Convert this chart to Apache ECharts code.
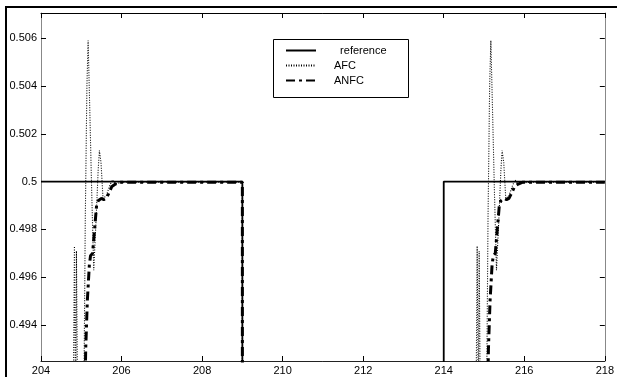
<!DOCTYPE html>
<html>
<head>
<meta charset="utf-8">
<script src="https://cdn.jsdelivr.net/npm/echarts@6/dist/echarts.min.js"></script>
<style>
html,body{margin:0;padding:0;background:#fff;}
#c{width:617px;height:377px;}
</style>
</head>
<body>
<div id="c"></div>
<script>
// ---- data ----
var xTicks = [204, 206, 208, 210, 212, 214, 216, 218];
var yTicks = [0.494, 0.496, 0.498, 0.5, 0.502, 0.504, 0.506];

var refT = [204, 209, 209, 214, 214, 218];
var refV = [0.5, 0.5, 0.0, 0.0, 0.5, 0.5];

var afcT = [204.0, 204.80, 204.83, 204.86, 204.88, 204.92, 205.05, 205.10, 205.14, 205.17, 205.21, 205.26, 205.31, 205.37, 205.42, 205.45, 205.49, 205.54, 205.62, 205.70, 205.77, 205.85, 205.95, 206.2, 209.0, 209.02,
            214.0, 214.80, 214.83, 214.86, 214.88, 214.92, 215.05, 215.10, 215.14, 215.17, 215.21, 215.26, 215.31, 215.37, 215.42, 215.45, 215.49, 215.54, 215.62, 215.70, 215.77, 215.85, 215.95, 216.2, 218.0];
var afcV = [0.0, 0.490, 0.4973, 0.4905, 0.4971, 0.488, 0.488, 0.4985, 0.5040, 0.5059, 0.5031, 0.4995, 0.4963, 0.4985, 0.5005, 0.5013, 0.5008, 0.4993, 0.4994, 0.4998, 0.50007, 0.4999, 0.49995, 0.49998, 0.49998, 0.0,
            0.0, 0.490, 0.4973, 0.4905, 0.4971, 0.488, 0.488, 0.4985, 0.5040, 0.5059, 0.5031, 0.4995, 0.4963, 0.4985, 0.5005, 0.5013, 0.5008, 0.4993, 0.4994, 0.4998, 0.50007, 0.4999, 0.49995, 0.49998, 0.49998];

var anfcT = [204.0, 205.06, 205.11, 205.15, 205.20, 205.23, 205.28, 205.33, 205.38, 205.42, 205.50, 205.56, 205.62, 205.68, 205.76, 205.85, 205.95, 209.0, 209.02,
             214.0, 215.06, 215.11, 215.15, 215.20, 215.23, 215.28, 215.33, 215.38, 215.42, 215.50, 215.56, 215.62, 215.68, 215.76, 215.85, 215.95, 218.0];
var anfcV = [0.0, 0.488, 0.4930, 0.4950, 0.4965, 0.4969, 0.4970, 0.4980, 0.4990, 0.4992, 0.4993, 0.49925, 0.4993, 0.4995, 0.4998, 0.4999, 0.49997, 0.49997, 0.0,
             0.0, 0.488, 0.4930, 0.4950, 0.4965, 0.4969, 0.4970, 0.4980, 0.4990, 0.4992, 0.4993, 0.49925, 0.4993, 0.4995, 0.4998, 0.4999, 0.49997, 0.49997];

var seriesNames = ['reference', 'AFC', 'ANFC'];

function zip(t, v) { return t.map(function (x, i) { return [x, v[i]]; }); }

var FONT = '"Liberation Sans", Arial, sans-serif';
var chart = echarts.init(document.getElementById('c'), null, {renderer: 'canvas'});

function ticks(vals) { return {show: true, inside: true, length: 5, customValues: vals, lineStyle: {color: '#000', width: 1}}; }

chart.setOption({
  animation: false,
  backgroundColor: '#fff',
  grid: {left: 41, right: 8, top: 13, bottom: 16, containLabel: false},
  legend: {
    z: 30,
    orient: 'vertical',
    left: 285, top: 45,
    itemWidth: 30, itemHeight: 10, itemGap: 4,
    padding: 0,
    data: seriesNames,
    itemStyle: {opacity: 0, borderWidth: 0},
    formatter: function (n) { return n === 'reference' ? '  ' + n : n; },
    textStyle: {fontFamily: FONT, fontSize: 11, color: '#000', padding: [0, 0, 0, 13]}
  },
  graphic: [
    {type: 'rect', z: 20, shape: {x: 273.5, y: 39.5, width: 135, height: 58}, style: {fill: '#fff', stroke: '#000', lineWidth: 1}},
    {type: 'line', z: 50, shape: {x1: 5, y1: 7, x2: 617, y2: 7}, style: {stroke: '#000', lineWidth: 2}},
    {type: 'line', z: 50, shape: {x1: 6, y1: 6, x2: 6, y2: 377}, style: {stroke: '#000', lineWidth: 2}}
  ],
  xAxis: [
    {type: 'value', position: 'bottom', min: 204, max: 218,
     axisLine: {show: true, onZero: false, lineStyle: {color: '#222', width: 1}},
     axisTick: ticks(xTicks), splitLine: {show: false},
     axisLabel: {color: '#000', fontFamily: FONT, fontSize: 11, margin: 4, customValues: xTicks,
       formatter: function (v) { return String(v); }}},
    {type: 'value', position: 'top', min: 204, max: 218,
     axisLine: {show: true, onZero: false, lineStyle: {color: '#000', width: 1}},
     axisTick: ticks(xTicks), splitLine: {show: false}, axisLabel: {show: false}}
  ],
  yAxis: [
    {type: 'value', position: 'left', min: 0.4925, max: 0.50705,
     axisLine: {show: true, onZero: false, lineStyle: {color: '#888', width: 1}},
     axisTick: ticks(yTicks), splitLine: {show: false},
     axisLabel: {color: '#000', fontFamily: FONT, fontSize: 11, margin: 4, customValues: yTicks,
       formatter: function (v) { return String(Math.round(v * 1000) / 1000); }}},
    {type: 'value', position: 'right', min: 0.4925, max: 0.50705,
     axisLine: {show: true, onZero: false, lineStyle: {color: '#888', width: 1}},
     axisTick: ticks(yTicks), splitLine: {show: false}, axisLabel: {show: false}}
  ],
  series: [
    {name: seriesNames[0], type: 'line', symbol: 'none', showSymbol: false, clip: true,
     data: zip(refT, refV), lineStyle: {color: '#000', width: 1.8, type: 'solid'}, itemStyle: {color: '#000'}, z: 3},
    {name: seriesNames[1], type: 'line', symbol: 'none', showSymbol: false, clip: true,
     data: zip(afcT, afcV), lineStyle: {color: '#000', width: 1.1, type: [1, 1.5]}, itemStyle: {color: '#000'}, z: 4},
    {name: seriesNames[2], type: 'line', symbol: 'none', showSymbol: false, clip: true,
     data: zip(anfcT, anfcV), lineStyle: {color: '#000', width: 3, type: [9, 4, 3, 4]}, itemStyle: {color: '#000'}, z: 5}
  ]
});
</script>
</body>
</html>
